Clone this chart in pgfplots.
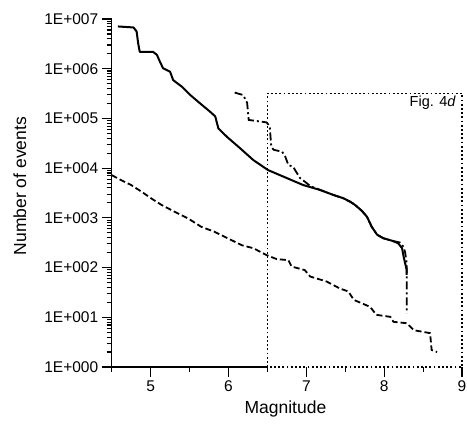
\documentclass[border=0pt]{standalone}
\usepackage{fontspec}
\setmainfont{Liberation Sans}
\usepackage{pgfplots}
\pgfplotsset{compat=1.18}
\usetikzlibrary{calc}

\begin{document}
\begin{tikzpicture}
\begin{axis}[
    scale only axis,
    width=350.3bp, height=348bp,
    xmin=4.5, xmax=9,
    ymin=1, ymax=1e7,
    ymode=log,
    clip=false,
    axis x line*=bottom,
    axis y line*=left,
    axis line style={-, line width=1.3bp},
    x axis line style={draw=none},
    tick align=outside,
    major tick length=10bp,
    minor tick length=5bp,
    tick style={black, line width=1.1bp},
    xtick={5,6,7,8,9},
    xticklabels={5,6,7,8,9},
    minor xtick={4.5,5.5,6.5,7.5,8.5},
    ytick={1,10,100,1000,10000,100000,1000000,10000000},
    yticklabels={1E+000,1E+001,1E+002,1E+003,1E+004,1E+005,1E+006,1E+007},
    minor ytick={2,3,4,5,6,7,8,9,
        20,30,40,50,60,70,80,90,
        200,300,400,500,600,700,800,900,
        2e3,3e3,4e3,5e3,6e3,7e3,8e3,9e3,
        2e4,3e4,4e4,5e4,6e4,7e4,8e4,9e4,
        2e5,3e5,4e5,5e5,6e5,7e5,8e5,9e5,
        2e6,3e6,4e6,5e6,6e6,7e6,8e6,9e6},
    ticklabel style={font=\fontsize{15.5bp}{18bp}\selectfont},
    xlabel={Magnitude},
    ylabel={Number of events},
    label style={font=\fontsize{17.5bp}{21bp}\selectfont},
    xlabel style={at={(axis description cs:0.496,-0.121)}, anchor=center},
    ylabel style={at={(axis description cs:-0.262,0.52)}, anchor=center},
]
\coordinate (sw) at (rel axis cs:0,0);

% solid x axis line up to the box
\addplot[black, line width=1.3bp] coordinates {(4.5,1) (6.5,1)};

% dotted frame of Fig. 4d
\addplot[black, line width=1.4bp, dash pattern=on 1.8bp off 2.4bp]
  coordinates {(6.5,1) (6.5,3.2e5) (9,3.2e5) (9,1) (6.5,1)};
\node[anchor=north east, inner sep=0pt, font=\fontsize{14.5bp}{17bp}\selectfont]
  at (axis cs:9,3.2e5) [xshift=-6bp, yshift=-2.5bp] {Fig. 4\textit{d}};

% dashed
\addplot[black, line width=1.8bp, dash pattern=on 6bp off 3bp] coordinates {
 (4.50,7.24e3) (4.62,5.75e3) (4.75,4.57e3) (4.88,3.39e3) (5.01,2.45e3)
 (5.14,1.82e3) (5.31,1.32e3) (5.48,977) (5.65,661) (5.82,525) (5.99,389)
 (6.17,282) (6.32,245) (6.49,178) (6.62,148) (6.77,141) (6.81,105)
 (6.98,89) (7.05,66) (7.26,52.5) (7.43,38) (7.54,33.1) (7.61,22.4)
 (7.82,16.2) (7.90,11.2) (8.08,10.2) (8.12,8.1) (8.29,7.6) (8.38,5.5)
 (8.59,4.8) (8.61,2.2) (8.68,2.0)};

% dash-dot
\addplot[black, line width=1.8bp, dash pattern=on 8bp off 3bp on 2bp off 3bp] coordinates {
 (6.08,3.31e5) (6.19,2.95e5) (6.24,2.04e5) (6.26,9.33e4) (6.49,8.32e4)
 (6.53,6.92e4) (6.55,2.69e4) (6.58,2.34e4) (6.69,2.14e4) (6.73,1.70e4)
 (6.77,1.15e4) (6.83,1.07e4) (6.88,7.94e3) (6.92,6.31e3) (6.98,5.37e3)
 (7.05,4.37e3) (7.18,3.63e3) (7.35,2.88e3) (7.47,2.50e3) (7.60,1.95e3)
 (7.70,1.45e3) (7.78,1.05e3) (7.84,661) (7.91,457) (7.99,389) (8.10,347)
 (8.20,320) (8.25,260) (8.27,200) (8.29,120) (8.29,12)};

% solid
\addplot[black, line width=2bp, line join=round] coordinates {
 (4.58,7.08e6) (4.78,6.76e6) (4.82,5.62e6) (4.84,3.24e6) (4.86,2.19e6)
 (5.03,2.19e6) (5.08,1.91e6) (5.12,1.38e6) (5.16,1.02e6) (5.25,8.71e5)
 (5.29,5.89e5) (5.40,4.37e5) (5.51,2.95e5) (5.63,2.04e5) (5.76,1.38e5)
 (5.83,1.10e5) (5.87,6.31e4) (5.98,4.27e4) (6.15,2.51e4) (6.32,1.45e4)
 (6.51,9.12e3) (6.75,6.31e3) (6.96,4.57e3) (7.18,3.63e3) (7.35,2.88e3)
 (7.47,2.50e3) (7.56,2.14e3) (7.64,1.75e3) (7.72,1.35e3) (7.78,1.05e3)
 (7.84,661) (7.91,457) (7.99,389) (8.10,347) (8.18,309) (8.23,245)
 (8.25,166) (8.29,89) (8.29,71)};
\end{axis}
\pgfresetboundingbox
\path[use as bounding box] ($(sw)+(-111.7bp,-58bp)$) rectangle ($(sw)+(355.3bp,367bp)$);
\end{tikzpicture}
\end{document}
